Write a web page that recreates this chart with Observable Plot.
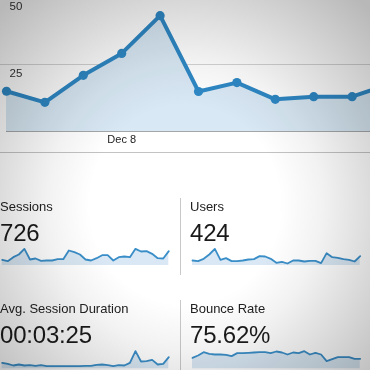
<!DOCTYPE html>
<html>
<head>
<meta charset="utf-8">
<script src="https://cdn.jsdelivr.net/npm/d3@7"></script>
<script src="https://cdn.jsdelivr.net/npm/@observablehq/plot@0.6"></script>
<style>
  html, body { margin: 0; padding: 0; background: #fff; }
  body { width: 370px; height: 370px; overflow: hidden; position: relative;
         font-family: "Liberation Sans", Arial, Helvetica, sans-serif; }
  .abs { position: absolute; }
  .label { font-size: 13px; line-height: 13px; color: #222; white-space: nowrap; }
  .num { font-size: 24px; line-height: 24px; color: #1a1a1a; white-space: nowrap; letter-spacing: -0.2px; }
  .vdiv { width: 1px; background: #c9c9c9; }
  #vignette { position: absolute; left: 0; top: 0; width: 370px; height: 370px; pointer-events: none;
     mix-blend-mode: multiply; z-index: 10;
     background: radial-gradient(ellipse 250px 262px at 185px 205px, #ffffff 38%, #f2f2f2 55%, #b8b8b8 105%); }
</style>
</head>
<body>
<div id="main" class="abs" style="left:0;top:0;"></div>
<div class="abs" style="left:0;top:152px;width:370px;height:1px;background:#c3c3c3;"></div>

<div class="abs label" style="left:0;top:200px;">Sessions</div>
<div class="abs num" style="left:0;top:221px;">726</div>
<div id="sp1" class="abs" style="left:0;top:240px;"></div>
<div class="abs vdiv" style="left:180px;top:198px;height:77px;"></div>

<div class="abs label" style="left:190px;top:200px;">Users</div>
<div class="abs num" style="left:190px;top:221px;">424</div>
<div id="sp2" class="abs" style="left:188px;top:240px;"></div>

<div class="abs label" style="left:0;top:302px;">Avg. Session Duration</div>
<div class="abs num" style="left:0;top:323px;">00:03:25</div>
<div id="sp3" class="abs" style="left:0;top:340px;"></div>
<div class="abs vdiv" style="left:180px;top:300px;height:70px;"></div>

<div class="abs label" style="left:190px;top:302px;">Bounce Rate</div>
<div class="abs num" style="left:190px;top:323px;">75.62%</div>
<div id="sp4" class="abs" style="left:188px;top:340px;"></div>

<div id="vignette"></div>

<script>
// Main chart data
const dates = ["Dec 5","Dec 6","Dec 7","Dec 8","Dec 9","Dec 10","Dec 11","Dec 12","Dec 13","Dec 14","Dec 15"];
const visits = [15.1, 11.0, 21.0, 29.1, 43.1, 15.0, 18.3, 12.1, 13.1, 13.1, 17.8];
const yTicks = [25, 50];
const xTicks = [3];

// Sparkline data (relative daily values)
const sessionsSpark = [17,13,25,33,50,18,21,14,15,15,19,19,45,40,33,18,15,22,31,31,15,25,27,25,50,42,43,35,22,21,43];
const usersSpark = [15,13,20,33,50,17,22,13,13,15,18,19,28,27,20,8,11,6,15,15,12,14,14,7,37,25,23,19,17,12,28];
const durationSpark = [18,15,10,13,10,11,9,11,8,8,8,8,8,8,8,9,9,12,13,11,8,11,10,18,53,22,23,27,13,15,35];
const bounceSpark = [33,40,50,45,43,43,42,38,47,47,48,49,50,50,47,52,49,43,49,47,53,43,48,43,23,29,35,35,35,30,30];

const BLUE = "#2e88c5";
const FONT = '"Liberation Sans", Arial, Helvetica, sans-serif';

const idx = visits.map((d, i) => i);
const main = Plot.plot({
  width: 370, height: 160,
  marginTop: 0, marginLeft: 0, marginRight: 0, marginBottom: 28.5,
  x: {domain: [-6 / 38.4, 364 / 38.4], axis: null},
  y: {domain: [0, 131.5 / 2.7], axis: null},
  style: {background: "transparent", fontFamily: FONT, overflow: "hidden"},
  marks: [
    Plot.ruleY(yTicks, {stroke: "#d4d4d4", strokeWidth: 1}),
    Plot.areaY(idx, {x: i => i, y: i => visits[i], fill: "#d8e8f4", clip: true}),
    Plot.ruleY([0], {x1: 0, x2: visits.length - 1, stroke: "#1f1f1f", strokeWidth: 1.4, clip: true}),
    Plot.lineY(idx, {x: i => i, y: i => visits[i], stroke: BLUE, strokeWidth: 4, clip: true}),
    Plot.dot(idx, {x: i => i, y: i => visits[i], r: 4.6, fill: BLUE, stroke: "none", clip: true}),
    Plot.text(yTicks, {y: d => d, frameAnchor: "left", dx: 9, dy: 9, text: d => String(d),
      textAnchor: "start", fontSize: 11.5, fill: "#333"}),
    Plot.text(xTicks, {x: d => d, frameAnchor: "bottom", dy: 11, text: d => dates[d],
      fontSize: 11, fill: "#222"})
  ]
});
document.getElementById("main").appendChild(main);

function spark(values, {width, height, mL, mR, mB, maxV}) {
  const ix = values.map((d, i) => i);
  return Plot.plot({
    width, height,
    marginTop: 0, marginLeft: mL, marginRight: mR, marginBottom: mB,
    x: {domain: [0, values.length - 1], axis: null},
    y: {domain: [0, maxV], axis: null},
    style: {background: "transparent", overflow: "visible"},
    marks: [
      Plot.areaY(ix, {x: i => i, y: i => values[i], fill: "#d9e8f4"}),
      Plot.lineY(ix, {x: i => i, y: i => values[i], stroke: "#3a8ec8", strokeWidth: 1.8})
    ]
  });
}

document.getElementById("sp1").appendChild(spark(sessionsSpark, {width: 170, height: 26, mL: 1.7, mR: 1.7, mB: 1, maxV: 75}));
document.getElementById("sp2").appendChild(spark(usersSpark, {width: 175, height: 26, mL: 4, mR: 3.3, mB: 1, maxV: 75}));
document.getElementById("sp3").appendChild(spark(durationSpark, {width: 170, height: 30, mL: 1.7, mR: 1.7, mB: 1.67, maxV: 85}));
document.getElementById("sp4").appendChild(spark(bounceSpark, {width: 175, height: 30, mL: 4, mR: 3.3, mB: 1.67, maxV: 85}));
</script>
</body>
</html>
